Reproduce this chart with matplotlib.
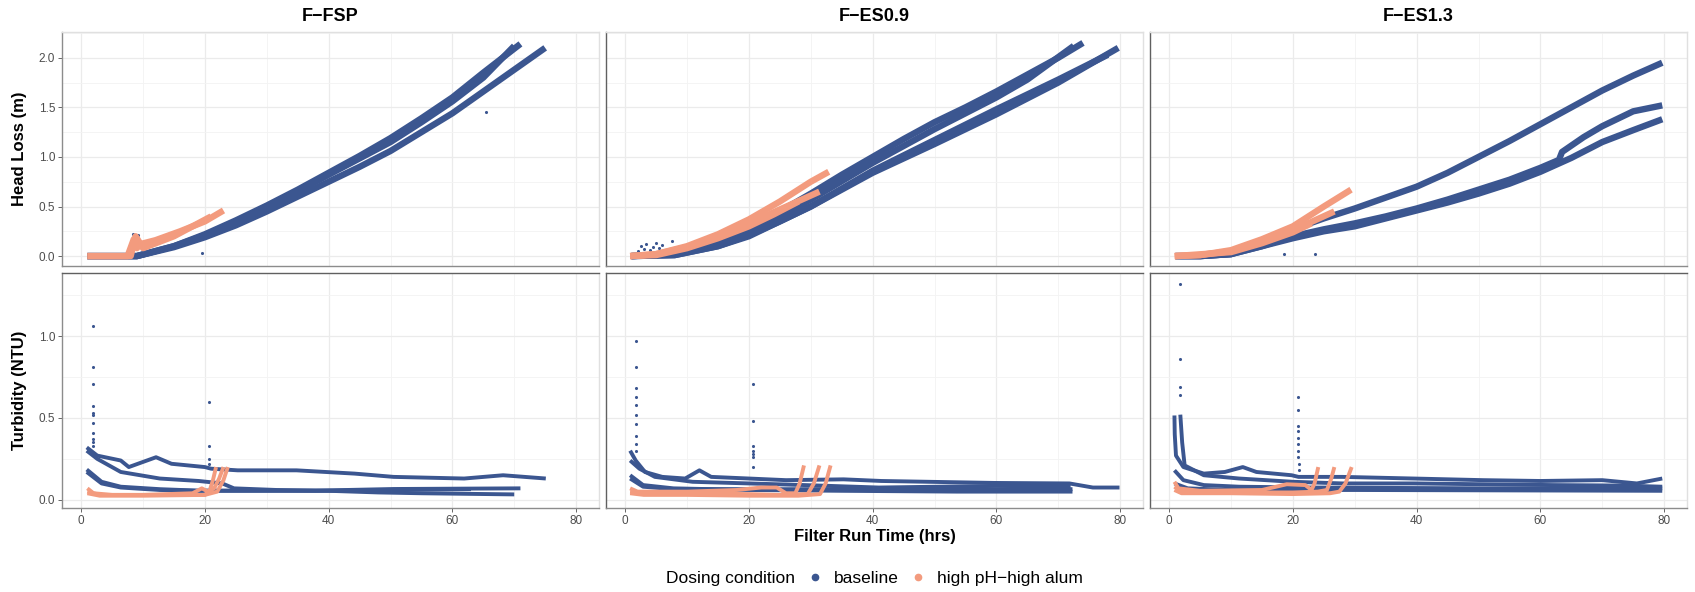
import matplotlib
matplotlib.use("Agg")
import matplotlib.pyplot as plt
from matplotlib.lines import Line2D
from matplotlib.ticker import MultipleLocator

plt.rcParams['font.family'] = ['Liberation Sans', 'DejaVu Sans']

BLUE = '#3b5690'
ORANGE = '#f39b7e'

filters = ['F\u2212FSP', 'F\u2212ES0.9', 'F\u2212ES1.3']
legend_labels = ['baseline', 'high pH\u2212high alum']

# ---- head loss runs (x = hrs, y = m) ----
fsp_hl_base = [
    ([1, 9, 15, 20, 25, 30, 35, 40, 45, 50, 55, 60, 65, 71],
     [0, 0, 0.1, 0.22, 0.36, 0.51, 0.67, 0.84, 1.01, 1.19, 1.39, 1.6, 1.85, 2.14]),
    ([1, 9, 15, 20, 25, 30, 40, 50, 55, 60, 65, 70],
     [0, 0, 0.1, 0.21, 0.34, 0.49, 0.82, 1.15, 1.35, 1.56, 1.8, 2.12]),
    ([1, 9, 15, 20, 25, 30, 35, 40, 45, 50, 55, 60, 65, 70, 75],
     [0, 0, 0.09, 0.19, 0.31, 0.45, 0.6, 0.75, 0.9, 1.06, 1.25, 1.44, 1.66, 1.88, 2.1]),
]
fsp_hl_high = [
    ([1, 7.5, 8.5, 9, 9.5, 12, 16, 20, 23], [0, 0, 0.17, 0.08, 0.12, 0.16, 0.25, 0.35, 0.46]),
    ([1, 8, 8.8, 10, 15, 21], [0, 0, 0.2, 0.08, 0.2, 0.4]),
]
fsp_hl_pts_x = [19.5, 65.5, 21.5, 8.3, 9.2]
fsp_hl_pts_y = [0.03, 1.45, 0.22, 0.22, 0.21]

es09_hl_base = [
    ([1, 8, 15, 20, 25, 30, 35, 40, 45, 50, 55, 60, 65, 70, 74],
     [0, 0.02, 0.15, 0.28, 0.45, 0.63, 0.82, 1.0, 1.18, 1.35, 1.5, 1.66, 1.83, 2.0, 2.15]),
    ([1, 8, 15, 20, 25, 30, 40, 50, 60, 65, 72.5],
     [0, 0.02, 0.13, 0.25, 0.4, 0.57, 0.94, 1.28, 1.6, 1.78, 2.12]),
    ([1, 8, 15, 20, 25, 30, 40, 50, 60, 70, 79.7],
     [0, 0.01, 0.1, 0.21, 0.35, 0.5, 0.84, 1.13, 1.43, 1.75, 2.1]),
    ([1, 8, 15, 20, 30, 40, 50, 60, 70, 78],
     [0, 0.01, 0.1, 0.2, 0.5, 0.86, 1.17, 1.48, 1.78, 2.03]),
]
es09_hl_high = [
    ([0.8, 5, 10, 15, 20, 25, 30, 32.9], [0, 0.02, 0.1, 0.22, 0.37, 0.55, 0.75, 0.85]),
    ([0.8, 5, 10, 15, 20, 25, 31.4], [0, 0.02, 0.09, 0.2, 0.33, 0.47, 0.65]),
    ([0.8, 5, 10, 15, 20, 24, 28], [0, 0.01, 0.08, 0.18, 0.3, 0.42, 0.55]),
]
es09_hl_pts_x = [2, 2.5, 3, 3.3, 4, 4.5, 5, 5.5, 6, 6.5, 7.5, 8]
es09_hl_pts_y = [0.05, 0.1, 0.07, 0.12, 0.06, 0.09, 0.13, 0.08, 0.11, 0.05, 0.15, 0.07]

es13_hl_base = [
    ([1, 5, 10, 15, 20, 25, 30, 35, 40, 45, 50, 55, 60, 65, 70, 75, 79.7],
     [0, 0, 0.02, 0.14, 0.27, 0.38, 0.48, 0.59, 0.7, 0.84, 1.0, 1.16, 1.33, 1.5, 1.67, 1.82, 1.95]),
    ([1, 5, 10, 15, 20, 25, 30, 35, 40, 45, 50, 55, 60, 63, 63.5, 67, 70, 75, 79.7],
     [0, 0, 0.02, 0.1, 0.2, 0.27, 0.33, 0.4, 0.48, 0.57, 0.67, 0.77, 0.89, 0.97, 1.05, 1.2, 1.31, 1.46, 1.52]),
    ([1, 5, 10, 15, 20, 25, 30, 35, 40, 45, 50, 55, 60, 65, 70, 75, 79.7],
     [0, 0, 0.02, 0.1, 0.18, 0.25, 0.3, 0.38, 0.46, 0.54, 0.63, 0.73, 0.85, 0.99, 1.15, 1.27, 1.38]),
]
es13_hl_high = [
    ([0.9, 5, 10, 15, 20, 25, 29.4], [0, 0.01, 0.06, 0.17, 0.3, 0.5, 0.67]),
    ([0.9, 5, 10, 15, 20, 26.7], [0, 0.01, 0.05, 0.14, 0.26, 0.45]),
    ([0.9, 10, 15, 20, 23], [0, 0.04, 0.13, 0.24, 0.33]),
]
es13_hl_pts_x = [18.5, 23.5, 8]
es13_hl_pts_y = [0.02, 0.02, 0.06]

# ---- turbidity runs (x = hrs, y = NTU) ----
fsp_tu_base = [
    ([0.9, 2.6, 6.4, 7.7, 12.1, 14.6, 20, 21, 25.3, 34.8, 44.2, 50.5, 61.9, 68.2, 75.1],
     [0.32, 0.27, 0.24, 0.2, 0.26, 0.22, 0.2, 0.19, 0.18, 0.18, 0.16, 0.14, 0.13, 0.15, 0.13]),
    ([0.9, 2.6, 6.4, 12.7, 19, 22.8, 24.7, 31.6, 40, 48, 55, 70],
     [0.3, 0.25, 0.17, 0.13, 0.115, 0.1, 0.07, 0.06, 0.055, 0.045, 0.04, 0.033]),
    ([0.9, 3.3, 6.4, 12.7, 19, 37.9, 50.5, 71], [0.185, 0.11, 0.08, 0.065, 0.056, 0.056, 0.066, 0.07]),
    ([0.9, 3.3, 6.4, 12.7, 19, 37.9, 50.5, 63], [0.17, 0.1, 0.075, 0.06, 0.055, 0.055, 0.06, 0.065]),
]
fsp_tu_high = [
    ([1, 2, 5, 15, 20, 20.8, 21.3, 21.8], [0.07, 0.04, 0.03, 0.03, 0.03, 0.06, 0.12, 0.2]),
    ([1, 3, 10, 18, 19.5, 20.5, 21.5, 22.3, 23], [0.05, 0.03, 0.03, 0.04, 0.07, 0.05, 0.07, 0.13, 0.2]),
    ([1, 3, 10, 20, 22, 23, 23.7], [0.04, 0.025, 0.025, 0.03, 0.05, 0.12, 0.2]),
]
fsp_tu_pts_x = [1.9, 1.9, 1.9, 1.9, 1.9, 1.9, 1.9, 1.9, 1.9, 1.9, 1.9, 20.7, 20.7, 20.7, 20.7]
fsp_tu_pts_y = [1.06, 0.81, 0.71, 0.57, 0.53, 0.52, 0.47, 0.41, 0.37, 0.35, 0.33, 0.6, 0.33, 0.25, 0.22]

es09_tu_base = [
    ([0.8, 1.7, 3.2, 6, 9.7, 12, 13.9, 20, 26, 35.3, 41.4, 53.6, 59.7, 71.8, 75.6, 79.9],
     [0.3, 0.24, 0.17, 0.14, 0.13, 0.18, 0.14, 0.13, 0.12, 0.125, 0.115, 0.107, 0.103, 0.1, 0.075, 0.075]),
    ([0.8, 2.3, 4.8, 10.9, 20, 29, 41, 60, 72], [0.24, 0.19, 0.14, 0.11, 0.1, 0.09, 0.075, 0.085, 0.08]),
    ([0.8, 2.9, 7.8, 20, 35, 53.6, 72.3], [0.15, 0.09, 0.07, 0.06, 0.055, 0.05, 0.05]),
    ([0.8, 2.9, 7.8, 20, 35, 53.6, 72.3], [0.13, 0.08, 0.065, 0.065, 0.065, 0.065, 0.065]),
]
es09_tu_high = [
    ([0.8, 2, 10, 18, 22, 24.5, 26, 27.5, 28.2, 28.9], [0.07, 0.05, 0.05, 0.06, 0.075, 0.075, 0.04, 0.04, 0.1, 0.21]),
    ([0.8, 3, 10, 20, 25, 29.5, 30.5, 31.4], [0.05, 0.04, 0.04, 0.035, 0.03, 0.035, 0.1, 0.21]),
    ([0.8, 3, 10, 20, 28, 31.5, 32.4, 33.2], [0.04, 0.03, 0.03, 0.025, 0.025, 0.035, 0.1, 0.21]),
]
es09_tu_pts_x = [1.8, 1.8, 1.8, 1.8, 1.8, 1.8, 1.8, 1.8, 1.8, 1.8, 20.7, 20.7, 20.7, 20.7, 20.7, 20.7, 20.7]
es09_tu_pts_y = [0.97, 0.81, 0.68, 0.63, 0.58, 0.52, 0.46, 0.39, 0.34, 0.3, 0.71, 0.48, 0.33, 0.3, 0.28, 0.26, 0.2]

es13_tu_base = [
    ([0.85, 0.9, 1.1, 2.3, 5.6, 9, 11.9, 14.1, 19.8, 20.9, 28, 39.5, 50.8, 60, 70, 75.6, 79.7],
     [0.515, 0.4, 0.27, 0.2, 0.16, 0.17, 0.2, 0.17, 0.15, 0.14, 0.14, 0.13, 0.12, 0.115, 0.12, 0.1, 0.13]),
    ([1.8, 2.1, 2.5, 5.6, 11.3, 20, 28, 39.5, 50.8, 62, 73.4, 79.7],
     [0.52, 0.35, 0.21, 0.15, 0.13, 0.11, 0.1, 0.1, 0.095, 0.09, 0.087, 0.08]),
    ([0.85, 2.3, 5.6, 11.3, 22.6, 50.8, 79.7], [0.18, 0.12, 0.09, 0.08, 0.075, 0.07, 0.07]),
    ([0.85, 3, 10, 30, 79.7], [0.1, 0.07, 0.06, 0.06, 0.055]),
]
es13_tu_high = [
    ([0.85, 1.5, 5, 15, 19, 22, 23, 23.5, 24.1], [0.11, 0.07, 0.055, 0.06, 0.095, 0.09, 0.06, 0.1, 0.2]),
    ([0.85, 2, 10, 20, 24, 25.5, 26.2, 26.7], [0.08, 0.05, 0.045, 0.045, 0.05, 0.06, 0.13, 0.2]),
    ([0.85, 2, 10, 20, 26, 27.5, 28.5, 29.5], [0.06, 0.04, 0.04, 0.035, 0.04, 0.05, 0.1, 0.2]),
]
es13_tu_pts_x = [1.8, 1.8, 1.8, 1.8, 20.8, 20.8, 20.8, 20.8, 20.9, 20.9, 20.9, 20.9, 21, 21]
es13_tu_pts_y = [1.32, 0.86, 0.69, 0.64, 0.63, 0.55, 0.45, 0.42, 0.38, 0.34, 0.3, 0.26, 0.22, 0.18]

head_loss = [
    (fsp_hl_base, fsp_hl_high, fsp_hl_pts_x, fsp_hl_pts_y),
    (es09_hl_base, es09_hl_high, es09_hl_pts_x, es09_hl_pts_y),
    (es13_hl_base, es13_hl_high, es13_hl_pts_x, es13_hl_pts_y),
]
turbidity = [
    (fsp_tu_base, fsp_tu_high, fsp_tu_pts_x, fsp_tu_pts_y),
    (es09_tu_base, es09_tu_high, es09_tu_pts_x, es09_tu_pts_y),
    (es13_tu_base, es13_tu_high, es13_tu_pts_x, es13_tu_pts_y),
]

W, H = 1695, 592
fig = plt.figure(figsize=(W / 100, H / 100), dpi=100)


def px_axes(left, top, width, height):
    return fig.add_axes([left / W, 1 - (top + height) / H, width / W, height / H])


col_left = [62, 606, 1150]
col_w = 537
rows = [(32, 234), (273, 235)]

for r, (data, ylim, lw) in enumerate([
        (head_loss, (-0.1, 2.26), 4.6),
        (turbidity, (-0.05, 1.385), 2.8)]):
    for c in range(3):
        ax = px_axes(col_left[c], rows[r][0], col_w, rows[r][1])
        base, high, px, py = data[c]
        for xs, ys in base:
            ax.plot(xs, ys, color=BLUE, lw=lw, solid_capstyle='butt',
                    solid_joinstyle='round', zorder=3)
        ax.scatter(px, py, s=5, color=BLUE, lw=0, zorder=3)
        for xs, ys in high:
            ax.plot(xs, ys, color=ORANGE, lw=lw, solid_capstyle='butt',
                    solid_joinstyle='round', zorder=4)

        ax.set_xlim(-3.1, 83.7)
        ax.set_ylim(*ylim)
        ax.xaxis.set_major_locator(MultipleLocator(20))
        ax.xaxis.set_minor_locator(MultipleLocator(10))
        ax.yaxis.set_minor_locator(MultipleLocator(0.25))
        ax.grid(True, which='major', color='#ebebeb', lw=0.9, zorder=0)
        ax.grid(True, which='minor', color='#f3f3f3', lw=0.6, zorder=0)
        ax.set_axisbelow(True)
        ax.tick_params(which='minor', length=0)
        ax.tick_params(which='major', length=3, width=0.6, color='#4d4d4d',
                       labelsize=8.5, labelcolor='#4d4d4d', pad=2)
        if r == 1:
            ax.set_yticks([0, 0.5, 1.0])
            ax.set_yticklabels(['0.0', '0.5', '1.0'])
        else:
            ax.set_yticks([0, 0.5, 1.0, 1.5, 2.0])
            ax.set_yticklabels(['0.0', '0.5', '1.0', '1.5', '2.0'])
        if c > 0:
            ax.tick_params(axis='y', labelleft=False, length=0)
        if r == 0:
            ax.tick_params(axis='x', labelbottom=False, length=0)
            ax.set_title(filters[c], fontsize=13, fontweight='bold', pad=8)

        for s in ax.spines.values():
            s.set_linewidth(1.0)
        ax.spines['left'].set_color('#8c8c8c' if c == 0 else '#606060')
        ax.spines['bottom'].set_color('#8c8c8c')
        ax.spines['right'].set_color('#e0e0e0')
        ax.spines['top'].set_color('#e0e0e0' if r == 0 else '#606060')

        if c == 0:
            ax.set_ylabel('Head Loss (m)' if r == 0 else 'Turbidity (NTU)',
                          fontsize=12, fontweight='bold', labelpad=8)

fig.text((col_left[0] + col_left[2] + col_w) / 2 / W, 1 - 537 / H, 'Filter Run Time (hrs)',
         ha='center', va='center', fontsize=12, fontweight='bold')

fig.text(666 / W, 1 - 578 / H, 'Dosing condition', ha='left', va='center', fontsize=12.5)
handles = [Line2D([], [], marker='o', ls='', color=BLUE, markersize=4.5),
           Line2D([], [], marker='o', ls='', color=ORANGE, markersize=4.5)]
fig.legend(handles, legend_labels, loc='center left', bbox_to_anchor=(806 / W, 1 - 578 / H),
           ncol=2, frameon=False, fontsize=12.5, handlelength=1.0, handletextpad=0.6,
           columnspacing=0.6, borderpad=0, borderaxespad=0)

fig.savefig('out.png', dpi=100)
